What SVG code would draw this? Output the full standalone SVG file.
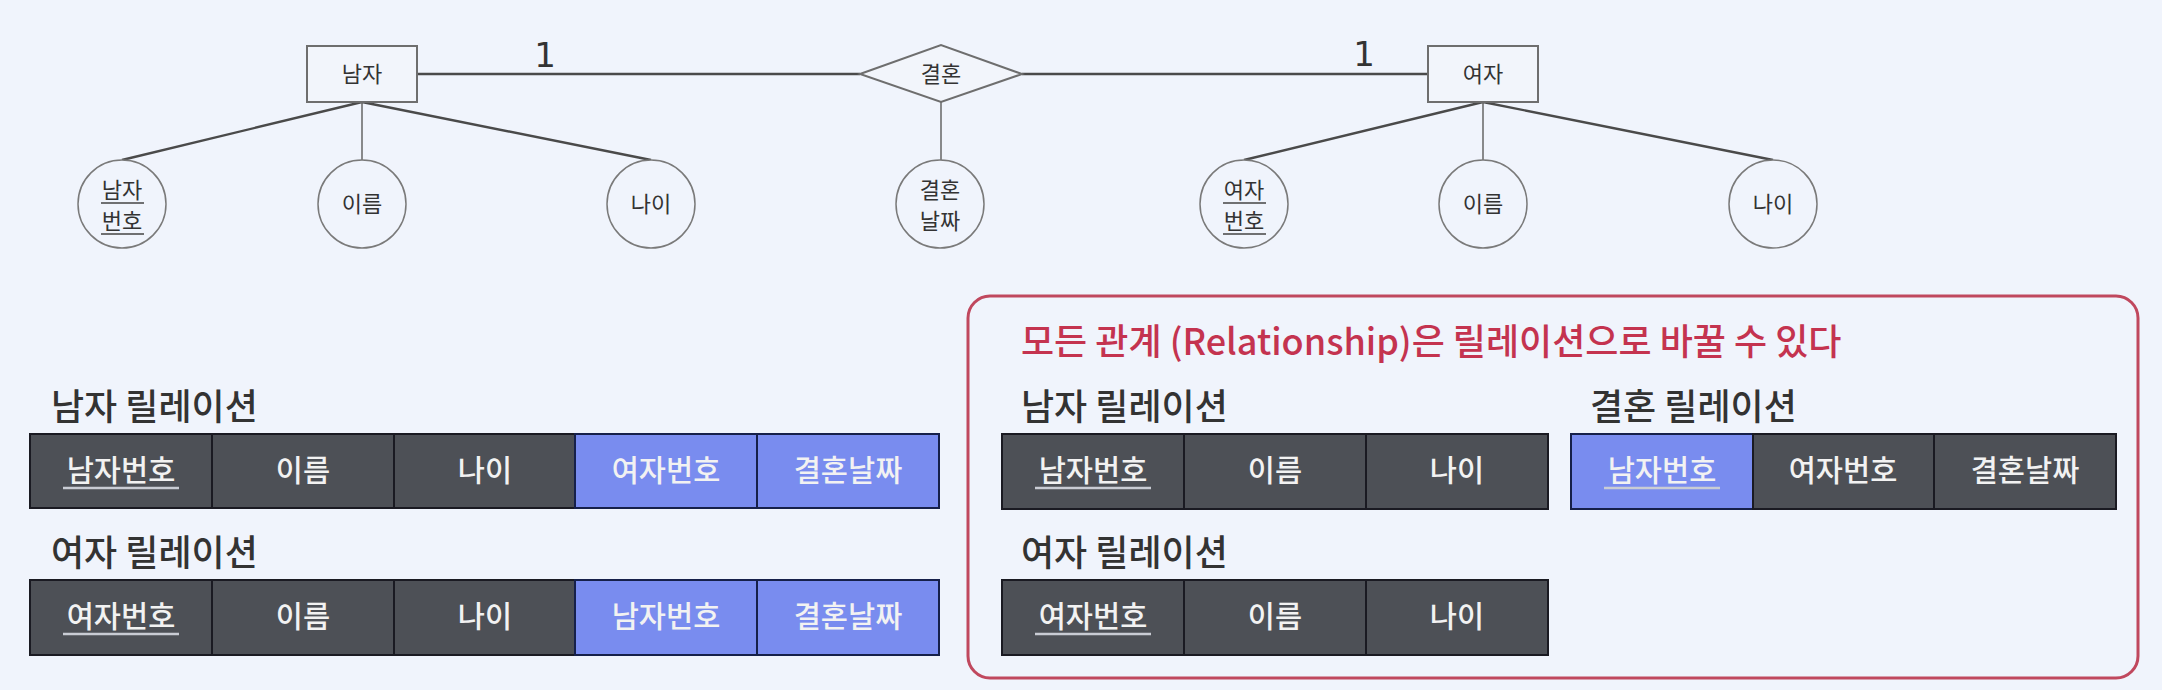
<svg xmlns="http://www.w3.org/2000/svg" width="2162" height="690" viewBox="0 0 2162 690">
<defs>
<style>
.bg{fill:#f0f4fc}
.ent{fill:#f2f5fb;stroke:#6e6e6e;stroke-width:2}
.attr{fill:#f0f4fc;stroke:#7a7a7a;stroke-width:1.5}
.conn{stroke:#4a4a4a;stroke-width:2.4;fill:none}
.conn1{stroke:#666;stroke-width:1.5;fill:none}
.er{font-family:"Noto Sans CJK KR","Noto Sans",sans-serif;font-size:22px;fill:#333;text-anchor:middle}
.card{font-family:"DejaVu Sans","Liberation Sans",sans-serif;font-size:34px;fill:#333;text-anchor:middle}
.ul{stroke:#444;stroke-width:1.5}
.title{font-family:"Noto Sans CJK KR","Noto Sans",sans-serif;font-size:36px;font-weight:500;fill:#333}
.red{font-family:"Noto Sans CJK KR","Noto Sans",sans-serif;font-size:36px;font-weight:500;fill:#c4334f}
.dark{fill:#4d5056;stroke:#1a1a22;stroke-width:2}
.blue{fill:#798cef;stroke:#16204a;stroke-width:2}
.cell{font-family:"Noto Sans CJK KR","Noto Sans",sans-serif;font-size:29.5px;font-weight:500;fill:#f2f2f2;text-anchor:middle}
.cul{stroke:#c9ccd4;stroke-width:2.5}
</style>
</defs>
<rect class="bg" x="0" y="0" width="2162" height="690"/>

<g id="connectors">
<line class="conn" x1="417" y1="74" x2="860" y2="74"/>
<line class="conn" x1="1022" y1="74" x2="1428" y2="74"/>
<line class="conn" x1="362" y1="102" x2="122" y2="160"/>
<line class="conn1" x1="362" y1="102" x2="362" y2="160"/>
<line class="conn" x1="362" y1="102" x2="651" y2="160"/>
<line class="conn1" x1="941" y1="102" x2="941" y2="160"/>
<line class="conn" x1="1483" y1="102" x2="1244" y2="160"/>
<line class="conn1" x1="1483" y1="102" x2="1483" y2="160"/>
<line class="conn" x1="1483" y1="102" x2="1773" y2="160"/>
<text class="card" x="545" y="67">1</text>
<text class="card" x="1364" y="66">1</text>
</g>

<g id="man">
<rect class="ent" x="307" y="46" width="110" height="56"/>
<text class="er" x="362" y="82">남자</text>
</g>
<g id="marriage">
<polygon class="ent" points="860,74 941,45 1022,74 941,102"/>
<text class="er" x="941" y="82">결혼</text>
</g>
<g id="woman">
<rect class="ent" x="1428" y="46" width="110" height="56"/>
<text class="er" x="1483" y="82">여자</text>
</g>

<g id="man-no">
<ellipse class="attr" cx="122" cy="204" rx="44" ry="44"/>
<text class="er" x="122" y="198">남자</text>
<text class="er" x="122" y="229">번호</text>
<line class="ul" x1="101" y1="203" x2="144" y2="203"/>
<line class="ul" x1="101" y1="234" x2="144" y2="234"/>
</g>
<g id="man-name">
<ellipse class="attr" cx="362" cy="204" rx="44" ry="44"/>
<text class="er" x="362" y="212">이름</text>
</g>
<g id="man-age">
<ellipse class="attr" cx="651" cy="204" rx="44" ry="44"/>
<text class="er" x="651" y="212">나이</text>
</g>
<g id="marriage-date">
<ellipse class="attr" cx="940" cy="204" rx="44" ry="44"/>
<text class="er" x="940" y="198">결혼</text>
<text class="er" x="940" y="229">날짜</text>
</g>
<g id="woman-no">
<ellipse class="attr" cx="1244" cy="204" rx="44" ry="44"/>
<text class="er" x="1244" y="198">여자</text>
<text class="er" x="1244" y="229">번호</text>
<line class="ul" x1="1223" y1="203" x2="1266" y2="203"/>
<line class="ul" x1="1223" y1="234" x2="1266" y2="234"/>
</g>
<g id="woman-name">
<ellipse class="attr" cx="1483" cy="204" rx="44" ry="44"/>
<text class="er" x="1483" y="212">이름</text>
</g>
<g id="woman-age">
<ellipse class="attr" cx="1773" cy="204" rx="44" ry="44"/>
<text class="er" x="1773" y="212">나이</text>
</g>

<g id="left-man-relation">
<text class="title" x="51" y="420">남자 릴레이션</text>
<rect class="dark" x="30" y="434" width="182" height="74"/>
<rect class="dark" x="212" y="434" width="182" height="74"/>
<rect class="dark" x="394" y="434" width="181" height="74"/>
<rect class="blue" x="575" y="434" width="182" height="74"/>
<rect class="blue" x="757" y="434" width="182" height="74"/>
<text class="cell" x="121" y="481">남자번호</text>
<line class="cul" x1="63" y1="488" x2="179" y2="488"/>
<text class="cell" x="303" y="481">이름</text>
<text class="cell" x="485" y="481">나이</text>
<text class="cell" x="666" y="481">여자번호</text>
<text class="cell" x="848" y="481">결혼날짜</text>
</g>

<g id="left-woman-relation">
<text class="title" x="51" y="566">여자 릴레이션</text>
<rect class="dark" x="30" y="580" width="182" height="75"/>
<rect class="dark" x="212" y="580" width="182" height="75"/>
<rect class="dark" x="394" y="580" width="181" height="75"/>
<rect class="blue" x="575" y="580" width="182" height="75"/>
<rect class="blue" x="757" y="580" width="182" height="75"/>
<text class="cell" x="121" y="627">여자번호</text>
<line class="cul" x1="63" y1="634" x2="179" y2="634"/>
<text class="cell" x="303" y="627">이름</text>
<text class="cell" x="485" y="627">나이</text>
<text class="cell" x="666" y="627">남자번호</text>
<text class="cell" x="848" y="627">결혼날짜</text>
</g>

<g id="note-box">
<rect x="968" y="296" width="1170" height="382" rx="22" fill="none" stroke="#c0485e" stroke-width="3"/>
<text class="red" x="1021" y="355">모든 관계 (Relationship)은 릴레이션으로 바꿀 수 있다</text>
</g>

<g id="right-man-relation">
<text class="title" x="1021" y="420">남자 릴레이션</text>
<rect class="dark" x="1002" y="434" width="182" height="75"/>
<rect class="dark" x="1184" y="434" width="182" height="75"/>
<rect class="dark" x="1366" y="434" width="182" height="75"/>
<text class="cell" x="1093" y="481">남자번호</text>
<line class="cul" x1="1035" y1="488" x2="1151" y2="488"/>
<text class="cell" x="1275" y="481">이름</text>
<text class="cell" x="1457" y="481">나이</text>
</g>

<g id="right-marriage-relation">
<text class="title" x="1590" y="420">결혼 릴레이션</text>
<rect class="blue" x="1571" y="434" width="182" height="75"/>
<rect class="dark" x="1753" y="434" width="181" height="75"/>
<rect class="dark" x="1934" y="434" width="182" height="75"/>
<text class="cell" x="1662" y="481">남자번호</text>
<line class="cul" x1="1604" y1="488" x2="1720" y2="488"/>
<text class="cell" x="1843" y="481">여자번호</text>
<text class="cell" x="2025" y="481">결혼날짜</text>
</g>

<g id="right-woman-relation">
<text class="title" x="1021" y="566">여자 릴레이션</text>
<rect class="dark" x="1002" y="580" width="182" height="75"/>
<rect class="dark" x="1184" y="580" width="182" height="75"/>
<rect class="dark" x="1366" y="580" width="182" height="75"/>
<text class="cell" x="1093" y="627">여자번호</text>
<line class="cul" x1="1035" y1="634" x2="1151" y2="634"/>
<text class="cell" x="1275" y="627">이름</text>
<text class="cell" x="1457" y="627">나이</text>
</g>
</svg>
